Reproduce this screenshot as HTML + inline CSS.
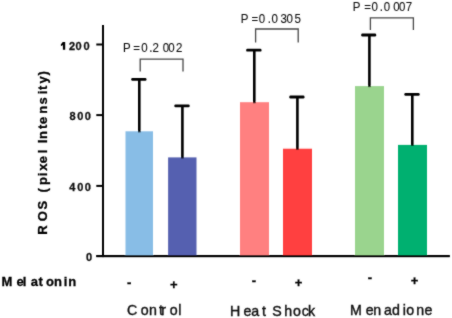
<!DOCTYPE html>
<html><head><meta charset="utf-8"><style>
html,body{margin:0;padding:0;background:#fff;width:452px;height:318px;overflow:hidden}
svg{display:block;transform:translateZ(0)}
text{font-family:"Liberation Sans",sans-serif}
</style></head><body>
<svg width="452" height="318" viewBox="0 0 452 318">
<defs><filter id="bl" x="-5%" y="-5%" width="110%" height="110%"><feConvolveMatrix order="3" kernelMatrix="1 2 1 2 20 2 1 2 1" divisor="32" preserveAlpha="false" edgeMode="none"/></filter></defs>
<rect width="452" height="318" fill="#fff"/>
<g filter="url(#bl)">
<rect x="102.0" y="25" width="2" height="232.10000000000002" fill="#000"/>
<rect x="96.3" y="255.10000000000002" width="353.4" height="2" fill="#000"/>
<rect x="96.3" y="43.5" width="6.700000000000003" height="2" fill="#000"/>
<rect x="96.3" y="114.1" width="6.700000000000003" height="2" fill="#000"/>
<rect x="96.3" y="184.9" width="6.700000000000003" height="2" fill="#000"/>
<rect x="125.5" y="131.3" width="27.5" height="124.80000000000001" fill="#88bde6"/>
<rect x="168.1" y="157.4" width="28.400000000000006" height="98.70000000000002" fill="#5560b0"/>
<rect x="240.0" y="102.2" width="29.0" height="153.90000000000003" fill="#ff8080"/>
<rect x="283.0" y="148.7" width="29.0" height="107.40000000000003" fill="#ff4040"/>
<rect x="355.0" y="86.1" width="29.0" height="170.00000000000003" fill="#9ad48e"/>
<rect x="398.0" y="144.9" width="29.0" height="111.20000000000002" fill="#00b070"/>
<rect x="138.0" y="79.0" width="2.6" height="53.30000000000001" fill="#000"/>
<rect x="131.2" y="78.0" width="15.300000000000006" height="2.8" rx="1.2" fill="#000"/>
<rect x="181.1" y="105.5" width="2.6" height="52.900000000000006" fill="#000"/>
<rect x="174.29999999999998" y="104.5" width="15.4" height="2.8" rx="1.2" fill="#000"/>
<rect x="253.0" y="49.8" width="2.6" height="53.400000000000006" fill="#000"/>
<rect x="246.2" y="48.8" width="15.299999999999978" height="2.8" rx="1.2" fill="#000"/>
<rect x="296.09999999999997" y="96.6" width="2.6" height="53.099999999999994" fill="#000"/>
<rect x="289.3" y="95.6" width="15.199999999999955" height="2.8" rx="1.2" fill="#000"/>
<rect x="368.09999999999997" y="34.6" width="2.6" height="52.49999999999999" fill="#000"/>
<rect x="361.2" y="33.6" width="15.000000000000023" height="2.8" rx="1.2" fill="#000"/>
<rect x="411.0" y="94.0" width="2.6" height="51.900000000000006" fill="#000"/>
<rect x="404.3" y="93.0" width="15.4" height="2.8" rx="1.2" fill="#000"/>
<rect x="96.3" y="255.10000000000002" width="353.4" height="2" fill="#000"/>
<path d="M140.2 71.6 V59.1 H183.0 V71.6" fill="none" stroke="#484848" stroke-width="1.3"/>
<path d="M255.6 42.4 V29.0 H298.2 V42.4" fill="none" stroke="#484848" stroke-width="1.3"/>
<path d="M370.4 30.1 V17.8 H413.4 V30.1" fill="none" stroke="#484848" stroke-width="1.3"/>
<text x="68.97 75.51 83.51" y="49.7" font-size="11" font-weight="bold" fill="#111" stroke="#111" stroke-width="0.3">200</text>
<path d="M62.6 41.9 H65.2 V49.7 H62.9 V44.9 Q62 45.8 60.9 46.1 V44.1 Q62.2 43.4 62.6 41.9 Z" fill="#000"/>
<text x="69.40 77.31 84.71" y="119.5" font-size="11" font-weight="bold" fill="#111" stroke="#111" stroke-width="0.3">800</text>
<text x="69.18 77.31 84.71" y="190.9" font-size="11" font-weight="bold" fill="#111" stroke="#111" stroke-width="0.3">400</text>
<text x="86.01" y="261.4" font-size="11" font-weight="bold" fill="#111" stroke="#111" stroke-width="0.3">0</text>
<text x="123.11 133.29 141.30 149.20 152.57 162.70 168.20 175.97" y="51.6" font-size="11.5" font-weight="normal" fill="#111" stroke="#111" stroke-width="0.1" transform="translate(0 51.6) scale(1 1.09) translate(0 -51.6)">P=0.2002</text>
<text x="240.71 251.49 258.70 267.70 271.60 280.41 286.60 294.59" y="22.6" font-size="11.5" font-weight="normal" fill="#111" stroke="#111" stroke-width="0.1" transform="translate(0 22.6) scale(1 1.09) translate(0 -22.6)">P=0.0305</text>
<text x="352.81 364.29 371.50 379.70 383.80 393.20 399.00 405.86" y="10.5" font-size="11.5" font-weight="normal" fill="#111" stroke="#111" stroke-width="0.1" transform="translate(0 10.5) scale(1 1.09) translate(0 -10.5)">P=0.0007</text>
<text x="1.58 16.54 22.84 30.87 38.59 45.94 53.99 63.64 68.19" y="286.2" font-size="13" font-weight="bold" fill="#000" stroke="#000" stroke-width="0.3">Melatonin</text>
<text x="126.94" y="286.57" font-size="13" font-weight="bold" fill="#000" stroke="#000" stroke-width="0.3">-</text>
<text x="170.00" y="289.32" font-size="13" font-weight="bold" fill="#000" stroke="#000" stroke-width="0.3">+</text>
<text x="251.64" y="284.87" font-size="13" font-weight="bold" fill="#000" stroke="#000" stroke-width="0.3">-</text>
<text x="294.70" y="286.82" font-size="13" font-weight="bold" fill="#000" stroke="#000" stroke-width="0.3">+</text>
<text x="367.74" y="282.47" font-size="13" font-weight="bold" fill="#000" stroke="#000" stroke-width="0.3">-</text>
<text x="410.70" y="284.52" font-size="13" font-weight="bold" fill="#000" stroke="#000" stroke-width="0.3">+</text>
<text x="127.03 140.65 149.11 159.04 161.31 169.65 178.19" y="315.4" font-size="14.2" font-weight="normal" fill="#111" stroke="#111" stroke-width="0.4">Control</text>
<text x="229.89 243.45 251.15 262.04 272.21 284.27 292.95 301.65 307.89" y="315.5" font-size="14.2" font-weight="normal" fill="#111" stroke="#111" stroke-width="0.4">HeatShock</text>
<text x="350.09 365.85 373.31 384.05 391.95 402.80 406.25 416.21 424.45" y="315.4" font-size="14.2" font-weight="normal" fill="#111" stroke="#111" stroke-width="0.4">Menadione</text>
<text transform="rotate(-90)" x="-234.72 -221.28 -209.62 -192.40 -185.11 -176.36 -170.84 -163.36 -153.36 -143.32 -139.11 -128.91 -124.06 -113.71 -104.51 -94.26 -89.91 -83.55 -75.46" y="46.8" font-size="13" font-weight="bold" fill="#000" stroke="#000" stroke-width="0.3">ROS(pixelIntensity)</text>
</g>
</svg>
</body></html>
